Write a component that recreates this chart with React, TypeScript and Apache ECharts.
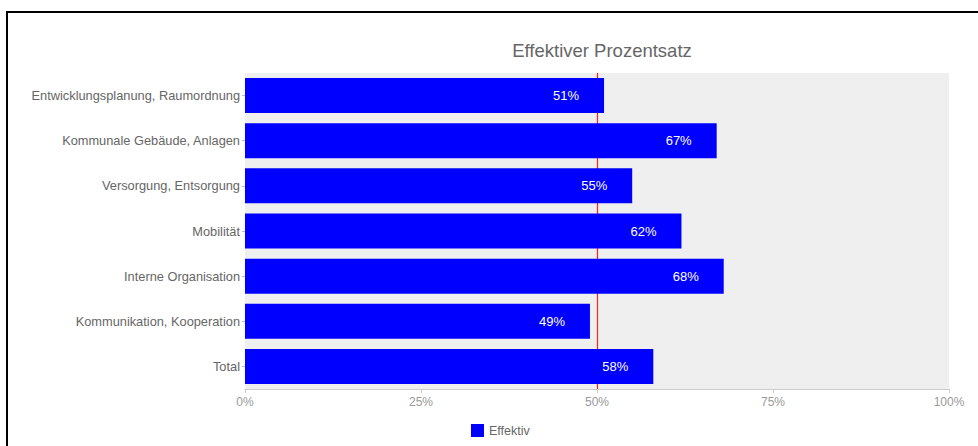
import React, { useEffect, useRef } from "react";
import * as echarts from "echarts";

const categories = [
  "Entwicklungsplanung, Raumordnung",
  "Kommunale Gebäude, Anlagen",
  "Versorgung, Entsorgung",
  "Mobilität",
  "Interne Organisation",
  "Kommunikation, Kooperation",
  "Total",
];
const effektiv = [51, 67, 55, 62, 68, 49, 58];
const xTicks = [0, 25, 50, 75, 100];
const referenceLine = 50;
const titleText = "Effektiver Prozentsatz";
const seriesName = "Effektiv";

export default function App() {
  const ref = useRef<HTMLDivElement>(null);
  useEffect(() => {
    document.body.style.margin = "0";
    if (!ref.current) return;
    const chart = echarts.init(ref.current, null, { renderer: "svg" });
    chart.setOption({
      animation: false,
      textStyle: { fontFamily: "Liberation Sans, Arial, sans-serif" },
      title: {
        text: titleText,
        left: 597,
        textAlign: "center",
        top: 36,
        textStyle: { fontSize: 18.5, fontWeight: "normal", color: "#666" },
      },
      legend: {
        data: [seriesName],
        left: 466,
        top: 419,
        itemWidth: 13,
        itemHeight: 13,
        itemGap: 8,
        icon: "rect",
        textStyle: { fontSize: 12.5, color: "#666" },
      },
      grid: {
        left: 245,
        right: 29,
        top: 73,
        bottom: 57,
        show: true,
        backgroundColor: "#efefef",
        borderWidth: 0,
      },
      xAxis: {
        type: "value",
        min: 0,
        max: 100,
        interval: 25,
        axisLine: { show: true, lineStyle: { color: "#ccc" } },
        axisTick: { show: true, length: 4, lineStyle: { color: "#ccc" } },
        splitLine: { show: false },
        axisLabel: {
          formatter: (v: number) => (xTicks.includes(v) ? v + "%" : ""),
          color: "#999",
          fontSize: 12,
          margin: 7,
        },
      },
      yAxis: {
        type: "category",
        data: categories,
        inverse: true,
        axisLine: { show: false },
        axisTick: { show: true, length: 3, alignWithLabel: true, lineStyle: { color: "#bbb" } },
        axisLabel: { color: "#666", fontSize: 12.8, margin: 5 },
      },
      series: [
        {
          name: "ref",
          type: "line",
          data: [],
          z: 1,
          markLine: {
            silent: true,
            z: 1,
            symbol: "none",
            label: { show: false },
            lineStyle: { color: "#ff2020", type: "solid", width: 1.2, opacity: 1 },
            emphasis: { disabled: true },
            data: [{ xAxis: referenceLine }],
          },
        },
        {
          name: seriesName,
          type: "bar",
          data: effektiv,
          barWidth: 35,
          z: 3,
          itemStyle: { color: "#0000ff" },
          label: {
            show: true,
            position: "insideRight",
            distance: 25,
            color: "#fff",
            fontSize: 13,
            formatter: (p: any) => p.value + "%",
          },
        },
      ],
    });
    return () => chart.dispose();
  }, []);
  return (
    <div style={{ position: "relative", width: 978, height: 446, background: "#fff", overflow: "hidden" }}>
      <div
        style={{
          position: "absolute",
          left: 6,
          top: 11,
          right: -10,
          bottom: -10,
          borderTop: "2px solid #000",
          borderLeft: "2px solid #000",
        }}
      />
      <div ref={ref} style={{ position: "absolute", left: 0, top: 0, width: 978, height: 446 }} />
    </div>
  );
}
